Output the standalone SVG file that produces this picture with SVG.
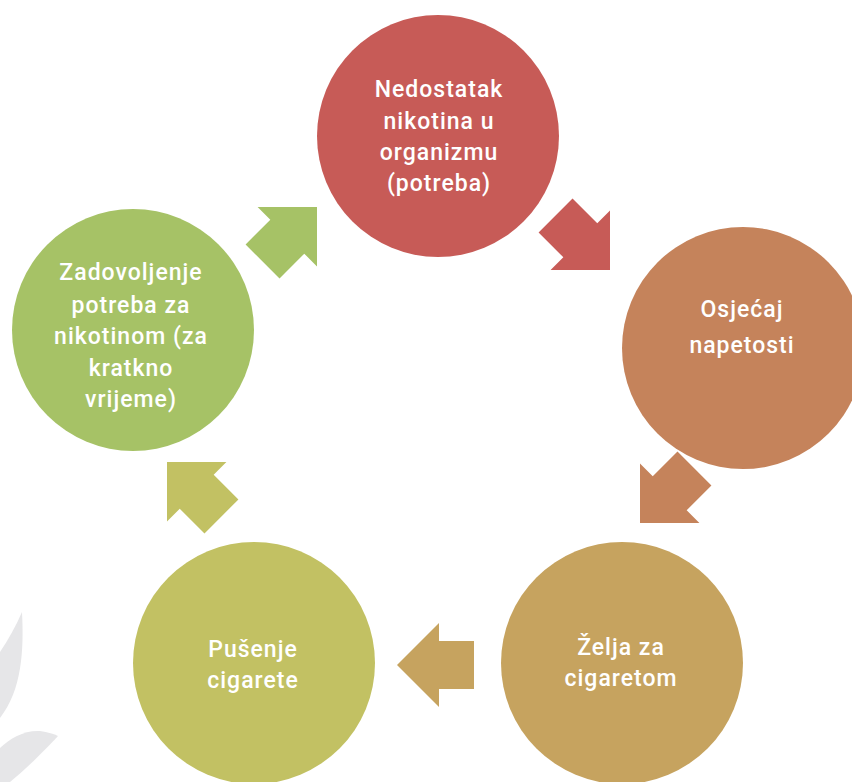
<svg xmlns="http://www.w3.org/2000/svg" width="852" height="782" viewBox="0 0 852 782">
<defs>
<style>
.lbl{font-family:Roboto,"Liberation Sans",sans-serif;font-size:23px;font-weight:500;fill:#fff;text-anchor:middle;letter-spacing:1px}
.leaf{fill:#e6e6e8}
</style>
<path id="arr" d="M0,0 L-42,-42 L-42,-24 L-77,-24 L-77,24 L-42,24 L-42,42 Z"/>
</defs>
<rect width="852" height="782" fill="#fff"/>
<g id="decor">
<path class="leaf" d="M22,612 C24,650 22,690 0,718 L0,652 C8,640 16,626 22,612 Z"/>
<path class="leaf" d="M0,748 C10,738 25,730 40,731 C48,732 54,734 58,736 C45,750 25,770 10,782 L0,782 Z"/>
</g>
<g id="connectors">
<use href="#arr" fill="#c75b57" transform="translate(610,270) rotate(45)"/>
<use href="#arr" fill="#c5835b" transform="translate(640,523) rotate(135)"/>
<use href="#arr" fill="#c6a35f" transform="translate(397,665) rotate(180)"/>
<use href="#arr" fill="#c2c163" transform="translate(167,462) rotate(225)"/>
<use href="#arr" fill="#a6c266" transform="translate(317,207) rotate(-45)"/>
</g>
<g id="n1">
<circle cx="438" cy="136" r="121" fill="#c75b57"/>
<text class="lbl"><tspan x="439" y="97">Nedostatak</tspan><tspan x="439" y="129">nikotina u</tspan><tspan x="439" y="160">organizmu</tspan><tspan x="439" y="191">(potreba)</tspan></text>
</g>
<g id="n2">
<circle cx="743" cy="348" r="121" fill="#c5835b"/>
<text class="lbl"><tspan x="742" y="317">Osjećaj</tspan><tspan x="742" y="353">napetosti</tspan></text>
</g>
<g id="n3">
<circle cx="622" cy="663" r="121" fill="#c6a35f"/>
<text class="lbl"><tspan x="621" y="655">Želja za</tspan><tspan x="621" y="686">cigaretom</tspan></text>
</g>
<g id="n4">
<circle cx="254" cy="663" r="121" fill="#c2c163"/>
<text class="lbl"><tspan x="253" y="657">Pušenje</tspan><tspan x="253" y="688">cigarete</tspan></text>
</g>
<g id="n5">
<circle cx="133" cy="330" r="121" fill="#a6c266"/>
<text class="lbl"><tspan x="131" y="280">Zadovoljenje</tspan><tspan x="131" y="313">potreba za</tspan><tspan x="131" y="344">nikotinom (za</tspan><tspan x="131" y="376">kratkno</tspan><tspan x="131" y="407">vrijeme)</tspan></text>
</g>
</svg>
